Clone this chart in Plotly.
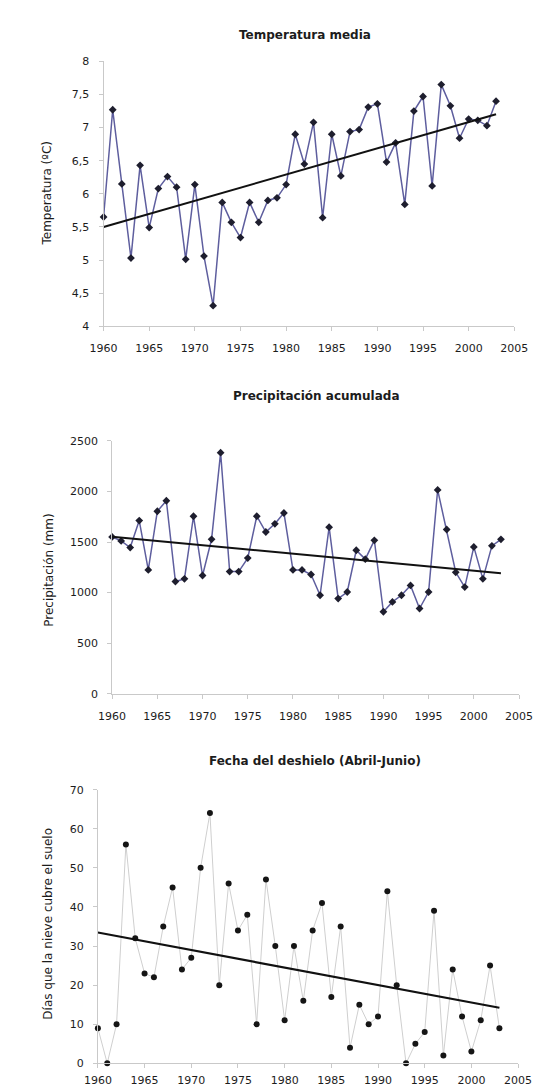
import numpy as np
import plotly.graph_objects as go

# ---------------- data ----------------
years = list(range(1960, 2004))

temperatura = [5.65, 7.27, 6.15, 5.03, 6.43, 5.49, 6.08, 6.26, 6.10, 5.01,
               6.14, 5.06, 4.31, 5.87, 5.57, 5.34, 5.87, 5.57, 5.90, 5.94,
               6.14, 6.90, 6.45, 7.08, 5.64, 6.90, 6.27, 6.94, 6.97, 7.31,
               7.36, 6.48, 6.77, 5.84, 7.25, 7.47, 6.12, 7.65, 7.33, 6.84,
               7.13, 7.11, 7.03, 7.40]

precipitacion = [1550, 1511, 1445, 1712, 1224, 1804, 1908, 1110, 1136, 1755,
                 1169, 1527, 2383, 1208, 1208, 1341, 1755, 1599, 1680, 1787,
                 1224, 1224, 1179, 974, 1647, 941, 1006, 1419, 1331, 1517,
                 811, 908, 974, 1071, 843, 1006, 2015, 1624, 1201, 1055,
                 1452, 1136, 1462, 1527]

dias_nieve = [9, 0, 10, 56, 32, 23, 22, 35, 45, 24,
              27, 50, 64, 20, 46, 34, 38, 10, 47, 30,
              11, 30, 16, 34, 41, 17, 35, 4, 15, 10,
              12, 44, 20, 0, 5, 8, 39, 2, 24, 12,
              3, 11, 25, 9]

x_tick_vals = [1960, 1965, 1970, 1975, 1980, 1985, 1990, 1995, 2000, 2005]
x_tick_text = ["1960", "1965", "1970", "1975", "1980", "1985", "1990", "1995", "2000", "2005"]

temp_tick_vals = [4, 4.5, 5, 5.5, 6, 6.5, 7, 7.5, 8]
temp_tick_text = ["4", "4,5", "5", "5,5", "6", "6,5", "7", "7,5", "8"]
prec_tick_vals = [0, 500, 1000, 1500, 2000, 2500]
dias_tick_vals = [0, 10, 20, 30, 40, 50, 60, 70]

titles = ["Temperatura media", "Precipitación acumulada", "Fecha del deshielo (Abril-Junio)"]
y_titles = ["Temperatura (ºC)", "Precipitación (mm)", "Días que la nieve cubre el suelo"]

# ---------------- layout helpers ----------------
W, H = 544, 1091


def fx(p):
    return p / W


def fy(p):
    return 1 - p / H


FONT = "DejaVu Sans"
TXT = "#1c1c1c"
AXC = "#c9c9c9"


def trend(xs, ys):
    m, b = np.polyfit(xs, ys, 1)
    return [xs[0], xs[-1]], [m * xs[0] + b, m * xs[-1] + b]


fig = go.Figure()

# Panel 1: temperature
fig.add_trace(go.Scatter(x=years, y=temperatura, mode="lines+markers",
                         line=dict(color="#5e5e9e", width=1.5),
                         marker=dict(symbol="diamond", size=6, color="#1e1e2e"),
                         cliponaxis=False, xaxis="x", yaxis="y", showlegend=False))
tx, ty = trend(years, temperatura)
fig.add_trace(go.Scatter(x=tx, y=ty, mode="lines", line=dict(color="#111111", width=2),
                         xaxis="x", yaxis="y", showlegend=False))

# Panel 2: precipitation
fig.add_trace(go.Scatter(x=years, y=precipitacion, mode="lines+markers",
                         line=dict(color="#5e5e9e", width=1.5),
                         marker=dict(symbol="diamond", size=6, color="#1e1e2e"),
                         cliponaxis=False, xaxis="x2", yaxis="y2", showlegend=False))
tx, ty = trend(years, precipitacion)
fig.add_trace(go.Scatter(x=tx, y=ty, mode="lines", line=dict(color="#111111", width=2),
                         xaxis="x2", yaxis="y2", showlegend=False))

# Panel 3: snow days
fig.add_trace(go.Scatter(x=years, y=dias_nieve, mode="lines+markers",
                         line=dict(color="#cfcfcf", width=1),
                         marker=dict(symbol="circle", size=6, color="#151515"),
                         cliponaxis=False, xaxis="x3", yaxis="y3", showlegend=False))
tx, ty = trend(years, dias_nieve)
fig.add_trace(go.Scatter(x=tx, y=ty, mode="lines", line=dict(color="#111111", width=2.2),
                         xaxis="x3", yaxis="y3", showlegend=False))


def xax(domain_px, anchor, standoff=8):
    return dict(domain=[fx(domain_px[0]), fx(domain_px[1])], anchor=anchor,
                range=[1960, 2005], tickvals=x_tick_vals, ticktext=x_tick_text,
                showline=True, linecolor=AXC, linewidth=1, ticks="outside", ticklen=4,
                tickcolor=AXC, showgrid=False, zeroline=False,
                tickfont=dict(family=FONT, size=11, color=TXT), ticklabelstandoff=standoff,
                fixedrange=True)


def yax(domain_px, anchor, rng, vals, text=None):
    d = dict(domain=[fy(domain_px[1]), fy(domain_px[0])], anchor=anchor,
             range=rng, tickvals=vals,
             showline=True, linecolor=AXC, linewidth=1, ticks="outside", ticklen=4,
             tickcolor=AXC, showgrid=False, zeroline=False,
             tickfont=dict(family=FONT, size=11, color=TXT), ticklabelstandoff=7,
             fixedrange=True)
    if text is not None:
        d["ticktext"] = text
    return d


fig.update_layout(
    width=W, height=H, autosize=False,
    margin=dict(l=0, r=0, t=0, b=0),
    paper_bgcolor="white", plot_bgcolor="white",
    xaxis=xax((86, 519), "y"),
    yaxis=yax((48, 316), "x", [4, 8], temp_tick_vals, temp_tick_text),
    xaxis2=xax((95, 524), "y2"),
    yaxis2=yax((432, 688), "x2", [0, 2500], prec_tick_vals),
    xaxis3=xax((80, 523), "y3", standoff=2),
    yaxis3=yax((785, 1062), "x3", [0, 70], dias_tick_vals),
)

annotations = []
title_pos = [(298, 21), (311, 387), (309, 756)]
for t, (x, y) in zip(titles, title_pos):
    annotations.append(dict(text="<b>" + t + "</b>", x=fx(x), y=fy(y), xref="paper", yref="paper",
                            xanchor="center", yanchor="middle", showarrow=False,
                            font=dict(family=FONT, size=12, color=TXT)))
ytitle_pos = [(26, 182), (29, 563), (27, 921)]
for t, (x, y) in zip(y_titles, ytitle_pos):
    annotations.append(dict(text=t, x=fx(x), y=fy(y), xref="paper", yref="paper",
                            xanchor="center", yanchor="middle", showarrow=False, textangle=-90,
                            font=dict(family=FONT, size=12, color=TXT)))
fig.update_layout(annotations=annotations)

fig.write_html("out.html")
